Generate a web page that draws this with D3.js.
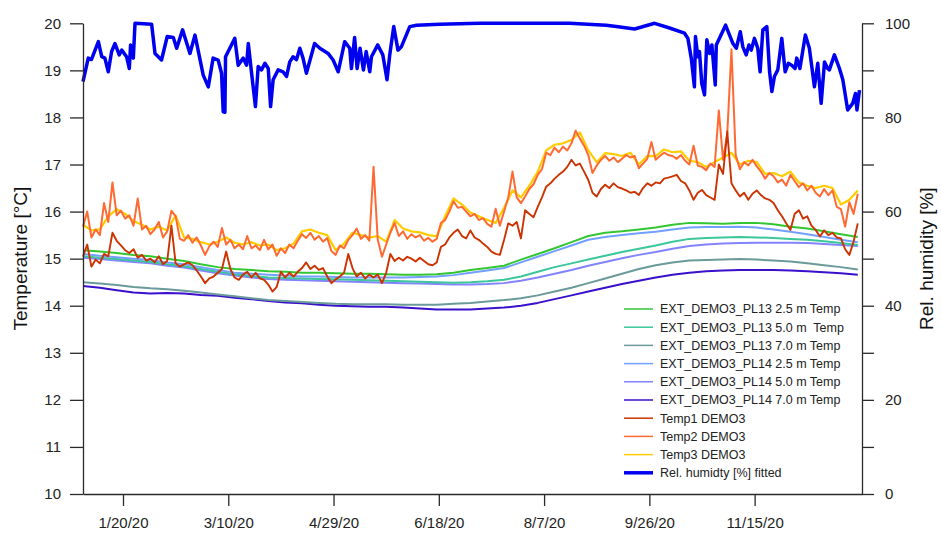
<!DOCTYPE html>
<html>
<head>
<meta charset="utf-8">
<script src="https://cdn.jsdelivr.net/npm/d3@7"></script>
<style>
  html, body { margin: 0; padding: 0; background: #fff; }
  svg { display: block; font-family: "Liberation Sans", Arial, sans-serif; }
</style>
</head>
<body>
<svg id="chart" width="941" height="533"></svg>
<script>
// ---- data -------------------------------------------------------------
// day numbers are counted from 1 Jan 2020
const xTickDays   = [19, 69, 119, 169, 219, 269, 319];
const xTickLabels = ["1/20/20", "3/10/20", "4/29/20", "6/18/20", "8/7/20", "9/26/20", "11/15/20"];
const tempTicks   = [10, 11, 12, 13, 14, 15, 16, 17, 18, 19, 20];
const rhTicks     = [0, 10, 20, 30, 40, 50, 60, 70, 80, 90, 100];

// probe series, one value every 8 days
const probeStep = 8;
const pl13_25 = [15.18,15.15,15.12,15.08,15.05,15.00,14.95,14.88,14.82,14.78,
  14.76,14.73,14.72,14.70,14.70,14.69,14.68,14.68,14.67,14.66,
  14.66,14.67,14.70,14.76,14.80,14.85,14.98,15.10,15.22,15.35,
  15.48,15.55,15.58,15.62,15.66,15.72,15.76,15.75,15.74,15.76,
  15.76,15.73,15.68,15.64,15.58,15.52,15.46];
const pl13_50 = [15.05,15.02,14.99,14.96,14.93,14.88,14.84,14.78,14.72,14.67,
  14.63,14.60,14.59,14.58,14.57,14.56,14.55,14.54,14.53,14.52,
  14.51,14.50,14.49,14.50,14.52,14.55,14.62,14.72,14.82,14.90,
  14.98,15.06,15.14,15.21,15.28,15.36,15.42,15.44,15.45,15.46,
  15.45,15.44,15.42,15.40,15.37,15.33,15.29];
const pl13_70 = [14.50,14.47,14.44,14.40,14.37,14.35,14.32,14.28,14.24,14.20,
  14.16,14.12,14.10,14.08,14.06,14.04,14.03,14.03,14.03,14.02,
  14.02,14.02,14.04,14.06,14.09,14.12,14.16,14.22,14.30,14.38,
  14.48,14.58,14.68,14.78,14.86,14.92,14.96,14.97,14.98,14.99,
  14.98,14.96,14.94,14.90,14.86,14.82,14.77];
const pl14_25 = [15.10,15.06,15.03,15.00,14.97,14.92,14.88,14.82,14.76,14.70,
  14.68,14.66,14.64,14.62,14.62,14.61,14.60,14.60,14.60,14.60,
  14.61,14.62,14.65,14.70,14.75,14.80,14.92,15.04,15.16,15.28,
  15.40,15.46,15.50,15.54,15.57,15.62,15.66,15.67,15.67,15.68,
  15.66,15.62,15.57,15.52,15.46,15.40,15.35];
const pl14_50 = [15.02,14.99,14.96,14.93,14.90,14.85,14.81,14.75,14.69,14.64,
  14.60,14.57,14.55,14.54,14.53,14.52,14.51,14.50,14.49,14.48,
  14.47,14.46,14.45,14.45,14.46,14.48,14.53,14.60,14.68,14.76,
  14.85,14.93,15.01,15.08,15.14,15.21,15.27,15.30,15.32,15.33,
  15.34,15.34,15.34,15.33,15.31,15.29,15.27];
const pl14_70 = [14.42,14.38,14.33,14.28,14.26,14.27,14.26,14.23,14.21,14.17,
  14.14,14.10,14.07,14.05,14.02,14.00,13.99,13.98,13.98,13.96,
  13.94,13.92,13.92,13.92,13.94,13.96,14.00,14.06,14.14,14.22,
  14.30,14.38,14.46,14.53,14.60,14.66,14.70,14.73,14.75,14.76,
  14.76,14.76,14.75,14.73,14.71,14.69,14.66];

// DEMO3 sensors, one value every 2 days (Temp3 every 4 days)
const tempStep = 2;
const temp1 = [
  15.04,15.30,14.83,14.98,14.90,15.10,15.05,15.55,15.38,15.28,
  15.18,15.12,15.20,15.02,15.08,14.96,15.00,14.92,15.05,14.88,
  14.95,15.70,14.90,14.83,14.88,14.92,14.86,14.75,14.62,14.48,
  14.58,14.62,14.70,14.78,15.15,14.78,14.60,14.55,14.66,14.72,
  14.60,14.70,14.58,14.55,14.45,14.30,14.40,14.72,14.60,14.70,
  14.62,14.72,14.80,14.92,14.78,14.85,14.76,14.80,14.62,14.48,
  14.56,14.62,14.70,15.10,14.80,14.62,14.70,14.58,14.66,14.60,
  14.66,14.48,14.70,15.10,14.95,15.02,14.96,15.04,15.00,14.94,
  15.02,14.95,14.88,14.86,14.92,15.25,15.30,15.45,15.55,15.62,
  15.48,15.43,15.60,15.45,15.40,15.32,15.25,15.15,15.10,15.08,
  15.40,15.75,15.70,15.78,15.43,16.03,15.95,15.88,16.10,16.30,
  16.53,16.60,16.70,16.78,16.85,16.95,17.10,16.98,17.02,16.85,
  16.67,16.40,16.32,16.48,16.57,16.50,16.60,16.52,16.49,16.45,
  16.40,16.42,16.35,16.50,16.60,16.55,16.62,16.60,16.70,16.72,
  16.75,16.78,16.65,16.60,16.45,16.25,16.40,16.46,16.35,16.30,
  16.25,17.00,16.80,17.70,16.60,16.45,16.32,16.40,16.25,16.38,
  16.45,16.35,16.28,16.25,16.18,16.03,15.90,15.75,15.61,15.95,
  16.03,15.85,15.90,15.70,15.61,15.47,15.60,15.50,15.55,15.45,
  15.43,15.20,15.08,15.36,15.75];
const temp2 = [
  15.68,16.00,15.45,15.62,15.50,16.18,15.78,16.62,15.92,16.02,
  15.85,15.92,15.70,16.28,15.62,15.70,15.52,15.62,15.78,15.45,
  15.58,16.02,15.90,15.42,15.38,15.50,15.34,15.45,15.28,15.08,
  15.26,15.36,15.25,15.65,15.30,15.40,15.22,15.30,15.20,15.48,
  15.22,15.28,15.18,15.40,15.20,15.30,15.06,15.22,15.12,15.30,
  15.22,15.38,15.52,15.44,15.55,15.40,15.48,15.36,15.44,15.16,
  15.08,15.28,15.22,15.40,15.50,15.64,15.42,15.50,15.38,16.95,
  15.40,15.04,15.30,15.55,15.76,15.48,15.58,15.42,15.52,15.45,
  15.50,15.38,15.44,15.36,15.42,15.76,15.82,16.00,16.22,16.08,
  16.10,16.00,15.90,15.95,15.82,15.86,15.74,15.68,16.06,15.70,
  16.00,16.30,16.85,16.30,16.18,16.32,16.48,16.58,16.78,16.90,
  17.25,17.20,17.36,17.26,17.38,17.30,17.45,17.72,17.55,17.40,
  17.20,16.82,16.98,17.10,17.18,17.08,17.15,17.05,17.12,17.20,
  17.15,17.18,16.92,17.02,17.12,17.48,17.10,17.18,17.25,17.20,
  17.18,17.12,17.20,17.08,17.00,17.40,16.98,16.95,16.88,17.02,
  16.95,18.15,17.10,17.65,19.45,17.20,16.90,17.05,16.98,17.10,
  16.96,16.85,16.70,16.82,16.75,16.62,16.68,16.55,16.78,16.65,
  16.52,16.60,16.45,16.55,16.40,16.32,16.48,16.35,16.45,16.10,
  16.05,15.68,16.20,15.95,16.38];
const temp3Step = 4;
const temp3 = [
  15.72,15.60,15.62,15.90,16.05,15.95,15.80,15.72,15.62,15.68,
  15.60,15.92,15.45,15.42,15.35,15.30,15.36,15.45,15.34,15.30,
  15.35,15.28,15.30,15.18,15.22,15.32,15.58,15.62,15.55,15.50,
  15.18,15.32,15.55,15.50,15.45,15.48,15.36,15.82,15.64,15.58,
  15.56,15.50,15.48,15.90,16.28,16.15,15.98,15.90,15.82,15.76,
  16.08,16.45,16.30,16.55,16.85,17.30,17.42,17.45,17.52,17.68,
  17.30,17.05,17.24,17.22,17.18,17.25,17.00,17.18,17.18,17.32,
  17.26,17.28,17.08,17.05,16.95,17.05,17.15,17.25,17.00,17.08,
  17.05,16.80,16.82,16.75,16.85,16.62,16.55,16.50,16.55,16.50,
  16.15,16.25,16.45];

// fitted relative humidity
const rhDay = [0,2.5,4,7.3,8.9,10.4,12,13.6,15.2,17.2,18.4,20.7,22,22.6,23.9,24.7,32.6,34.2,37.3,40,
  42.9,44.5,47.3,50.8,53.2,57.1,59.5,61.8,64.2,65.8,66.6,67.4,67.7,72.1,73.7,76.1,77.7,78.5,80,81.9,
  83.2,84.8,86.4,88,89.1,90.3,92.7,95,96.7,98.2,99.8,101.4,103,104.5,106.1,110,112.5,116.4,118.8,121.2,
  124.3,126.7,127.5,129,130.2,131.6,133.2,134.5,136.2,137,140,142.4,144.4,145.7,147.6,149.6,151.2,155.2,158.4,169.4,
  188.4,231,248.5,253.3,262,271.5,278.6,285.7,287.3,288.9,290.4,290.9,292,292.8,293.9,295.2,296.3,297.6,298.7,300.3,
  300.8,305.2,308.7,310.3,312.2,313.4,315,316.3,317.4,318.9,320.5,321.6,322.9,324.8,326.1,327.2,328.4,330,331.9,333.5,
  335,336.6,338.2,339,340.5,343.1,345,347.4,349,350.6,352.2,353.7,354.5,356.9,359.3,360.9,363.2,365.6,366.9,367.6,
  368.8];
const rhVal = [87.6,92.6,92.3,96.1,92.9,92.6,89.7,94.0,95.7,93.3,94.3,92.9,90.4,95.4,92.6,100,99.8,93.6,92.2,97.2,
  97.0,94.7,98.6,93.6,97.5,89.0,86.5,92.6,92.2,89.4,81.2,81.1,92.9,96.8,91.1,92.6,91.1,95.7,89.7,82.3,
  90.8,90.1,91.5,90.4,82.3,88.0,90.1,89.7,88.7,91.8,92.9,92.3,94.7,92.6,89.4,95.7,94.7,93.6,92.2,89.7,
  96.1,94.7,90.4,97.0,90.4,94.7,90.1,94.0,89.7,92.9,95.4,93.3,88.0,93.3,99.3,94.3,95.0,99.3,99.6,99.8,
  100,100,99.6,99.3,98.8,100,99.0,97.9,96.8,92.6,86.5,97.2,92.9,94.0,87.2,84.8,96.5,93.6,95.4,86.9,
  95.4,99.6,95.7,94.7,98.2,95.0,93.3,95.4,94.3,96.8,94.7,89.7,98.6,99.3,89.7,85.5,88.7,90.1,96.8,89.7,
  91.5,91.1,90.4,92.6,90.4,97.5,94.7,86.5,91.5,83.0,91.8,90.4,90.1,93.3,90.4,88.0,81.6,83.0,85.1,81.6,
  85.8];

const seriesNames = [
  "EXT_DEMO3_PL13 2.5 m Temp", "EXT_DEMO3_PL13 5.0 m  Temp", "EXT_DEMO3_PL13 7.0 m Temp",
  "EXT_DEMO3_PL14 2.5 m Temp", "EXT_DEMO3_PL14 5.0 m Temp", "EXT_DEMO3_PL14 7.0 m Temp",
  "Temp1 DEMO3", "Temp2 DEMO3", "Temp3 DEMO3", "Rel. humidty [%] fitted"];
const seriesColors = ["#33c633", "#3cc79a", "#6a9a9a", "#73a0ff", "#8383ff", "#3a10cc",
  "#cc3300", "#ff6a33", "#ffcc00", "#0000f0"];

// ---- drawing ----------------------------------------------------------
const svg = d3.select("#chart");
const day0 = Date.UTC(2020, 0, 1);
const toDate = d => new Date(day0 + d * 86400000);

const plotL = 83, plotR = 862, plotT = 23.3, plotB = 494;
const x = d3.scaleUtc().domain([toDate(0), toDate(370)]).range([plotL, plotR]);
const yT = d3.scaleLinear().domain([10, 20]).range([plotB, plotT]);
const yRH = d3.scaleLinear().domain([0, 100]).range([plotB, plotT]);

const plot = svg.append("g");

function stepSeries(vals, step) { return vals.map((v, i) => [toDate(i * step), v]); }
const lineT = d3.line().x(d => x(d[0])).y(d => yT(d[1]));
const lineRH = d3.line().x(d => x(d[0])).y(d => yRH(d[1])).curve(d3.curveLinear);

function drawT(vals, step, color, width) {
  plot.append("path")
    .datum(stepSeries(vals, step))
    .attr("fill", "none").attr("stroke", color)
    .attr("stroke-width", width).attr("stroke-linejoin", "round")
    .attr("d", lineT);
}

// probe lines
drawT(pl14_70, probeStep, seriesColors[5], 2);
drawT(pl13_70, probeStep, seriesColors[2], 2);
drawT(pl14_50, probeStep, seriesColors[4], 2);
drawT(pl13_50, probeStep, seriesColors[1], 2);
drawT(pl14_25, probeStep, seriesColors[3], 2);
drawT(pl13_25, probeStep, seriesColors[0], 2);
// DEMO3 sensors
drawT(temp3, temp3Step, seriesColors[8], 2.2);
drawT(temp2, tempStep, seriesColors[7], 2.0);
drawT(temp1, tempStep, seriesColors[6], 1.9);

// humidity
plot.append("path")
  .datum(rhDay.map((d, i) => [toDate(d), rhVal[i]]))
  .attr("fill", "none").attr("stroke", seriesColors[9])
  .attr("stroke-width", 3.5).attr("stroke-linejoin", "round")
  .attr("d", lineRH);

// axes
const axisColor = "#2a2a2a";
function styleAxis(g) {
  g.selectAll("path.domain").attr("stroke", axisColor).attr("stroke-width", 1.3);
  g.selectAll(".tick line").attr("stroke", axisColor).attr("stroke-width", 1.3);
  g.selectAll(".tick text").attr("fill", "#222").style("font-size", "15px")
    .style("font-family", "'Liberation Sans', Arial, sans-serif");
}

svg.append("g").attr("transform", `translate(${plotL},0)`)
  .call(d3.axisLeft(yT).tickValues(tempTicks).tickSize(13).tickSizeOuter(0).tickPadding(9).tickFormat(d3.format("d")))
  .call(styleAxis);

svg.append("g").attr("transform", `translate(${plotR},0)`)
  .call(d3.axisRight(yRH).tickValues(rhTicks).tickSize(12).tickSizeOuter(0).tickPadding(11)
    .tickFormat(d => d % 20 === 0 ? d : ""))
  .call(styleAxis);

svg.append("g").attr("transform", `translate(0,${plotB})`)
  .call(d3.axisBottom(x).tickValues(xTickDays.map(toDate)).tickSize(12).tickSizeOuter(0).tickPadding(11)
    .tickFormat((d, i) => xTickLabels[i]))
  .call(styleAxis);

// axis titles
svg.append("text")
  .attr("transform", `translate(26.5,${(plotT + plotB) / 2}) rotate(-90)`)
  .attr("text-anchor", "middle").attr("fill", "#111")
  .style("font-size", "19px")
  .text("Temperature [°C]");
svg.append("text")
  .attr("transform", `translate(933,${(plotT + plotB) / 2}) rotate(-90)`)
  .attr("text-anchor", "middle").attr("fill", "#111")
  .style("font-size", "19px")
  .text("Rel. humidity [%]");

// legend
const legend = svg.append("g").attr("transform", "translate(624,309)");
const rowH = 18.2;
seriesNames.forEach((name, i) => {
  const g = legend.append("g").attr("transform", `translate(0,${i * rowH})`);
  g.append("line").attr("x1", 0).attr("x2", 29).attr("y1", 0).attr("y2", 0)
    .attr("stroke", seriesColors[i]).attr("stroke-width", i === 9 ? 3.5 : 1.5);
  g.append("text").attr("x", 36).attr("y", 0).attr("dy", "0.35em")
    .attr("fill", "#222").style("font-size", "12.5px").style("white-space", "pre")
    .text(name);
});
</script>
</body>
</html>
